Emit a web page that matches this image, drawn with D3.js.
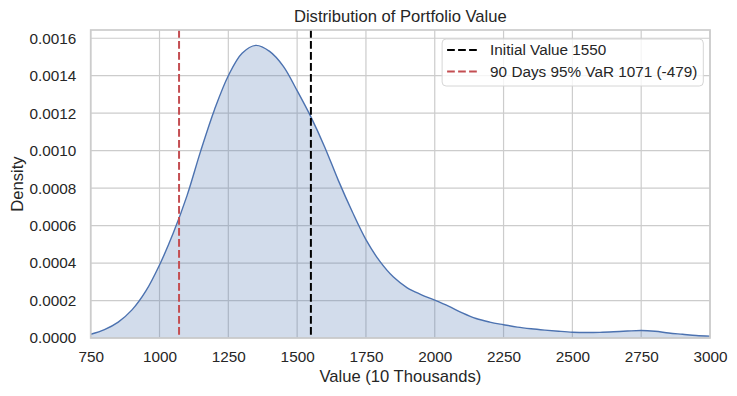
<!DOCTYPE html>
<html>
  <head>
    <meta charset="utf-8" />
    <title>Distribution of Portfolio Value</title>
    <script src="https://d3js.org/d3.v7.min.js"></script>
    <style>
      body { margin: 0; background: #fff; }
      svg text { font-family: "Liberation Sans", Arial, sans-serif; fill: #262626; }
    </style>
  </head>
  <body>
    <svg id="chart" width="737" height="396"></svg>
    <script>
      // values (x in 10 thousands, y = density)
      const xValues = [750, 800, 850, 900, 950, 1000, 1050, 1100, 1150, 1200,
        1250, 1300, 1350, 1400, 1450, 1500, 1550, 1600, 1650, 1700,
        1750, 1800, 1850, 1900, 1950, 2000, 2050, 2100, 2150, 2200,
        2250, 2300, 2350, 2400, 2450, 2500, 2550, 2600, 2650, 2700,
        2750, 2800, 2850, 2900, 2950, 3000];
      const densities = [0.00002, 0.000045, 0.000085, 0.00015, 0.00025, 0.00039, 0.00056, 0.00076, 0.001, 0.00122,
        0.0014, 0.00152, 0.001562, 0.00153, 0.00145, 0.00132, 0.00118, 0.00102, 0.00084, 0.000675,
        0.000525, 0.00041, 0.000325, 0.000268, 0.000232, 0.000202, 0.00017, 0.000134, 0.000104, 0.000085,
        0.000071, 0.000058, 0.000049, 0.000042, 0.000036, 0.000031, 0.000029, 0.00003, 0.000033, 0.000037,
        0.00004, 0.000036, 0.000027, 0.00002, 0.000013, 0.00001];

      const initialValue = 1550;
      const varValue = 1071;
      const legendLabels = ["Initial Value 1550", "90 Days 95% VaR 1071 (-479)"];
      const xTicks = [750, 1000, 1250, 1500, 1750, 2000, 2250, 2500, 2750, 3000];
      const yTicks = [0, 0.0002, 0.0004, 0.0006, 0.0008, 0.001, 0.0012, 0.0014, 0.0016];

      const svg = d3.select("#chart");
      const width = +svg.attr("width");
      const height = +svg.attr("height");
      const margin = { top: 30, right: 27, bottom: 58, left: 90.7 };
      const plotW = width - margin.left - margin.right;
      const plotH = height - margin.top - margin.bottom;

      const data = xValues.map((x, i) => ({ x: x, y: densities[i] }));

      const x = d3.scaleLinear().domain([750, 3000]).range([0, plotW]);
      const y = d3.scaleLinear().domain([0, 0.001644]).range([plotH, 0]);

      const g = svg.append("g")
        .attr("transform", "translate(" + margin.left + "," + margin.top + ")");

      // grid (drawn below everything)
      g.append("g")
        .selectAll("line")
        .data(xTicks)
        .join("line")
        .attr("x1", d => x(d)).attr("x2", d => x(d))
        .attr("y1", 0).attr("y2", plotH)
        .attr("stroke", "#cccccc").attr("stroke-width", 1.2);
      g.append("g")
        .selectAll("line")
        .data(yTicks)
        .join("line")
        .attr("x1", 0).attr("x2", plotW)
        .attr("y1", d => y(d)).attr("y2", d => y(d))
        .attr("stroke", "#cccccc").attr("stroke-width", 1.2);

      // kde fill + line
      const area = d3.area()
        .x(d => x(d.x)).y0(y(0)).y1(d => y(d.y))
        .curve(d3.curveCatmullRom);
      const line = d3.line()
        .x(d => x(d.x)).y(d => y(d.y))
        .curve(d3.curveCatmullRom);

      g.append("path").datum(data)
        .attr("d", area)
        .attr("fill", "#4c72b0").attr("fill-opacity", 0.25);
      g.append("path").datum(data)
        .attr("d", line)
        .attr("fill", "none").attr("stroke", "#4c72b0").attr("stroke-width", 1.4);

      // vertical reference lines
      const vlines = [
        { v: initialValue, color: "#000000" },
        { v: varValue, color: "#c44e52" }
      ];
      g.append("g")
        .selectAll("line")
        .data(vlines)
        .join("line")
        .attr("x1", d => x(d.v)).attr("x2", d => x(d.v))
        .attr("y1", 0).attr("y2", plotH)
        .attr("stroke", d => d.color)
        .attr("stroke-width", 2)
        .attr("stroke-dasharray", "7.7,3.3");

      // spines
      g.append("rect")
        .attr("width", plotW).attr("height", plotH)
        .attr("fill", "none").attr("stroke", "#cccccc").attr("stroke-width", 1.7);

      // axes (labels only, no tick marks)
      const xAxis = g.append("g")
        .attr("transform", "translate(0," + plotH + ")")
        .call(d3.axisBottom(x).tickValues(xTicks).tickFormat(d3.format("d")).tickSize(0).tickPadding(13));
      const yAxis = g.append("g")
        .call(d3.axisLeft(y).tickValues(yTicks).tickFormat(d3.format(".4f")).tickSize(0).tickPadding(14.5));
      [xAxis, yAxis].forEach(a => {
        a.select(".domain").remove();
        a.selectAll("text")
          .attr("fill", "#262626")
          .style("font-size", "15.3px")
          .style("font-family", "'Liberation Sans', Arial, sans-serif");
      });

      // title and axis labels
      svg.append("text")
        .attr("x", margin.left + plotW / 2).attr("y", 22)
        .attr("text-anchor", "middle")
        .style("font-size", "16.6px")
        .text("Distribution of Portfolio Value");
      svg.append("text")
        .attr("x", margin.left + plotW / 2).attr("y", 382)
        .attr("text-anchor", "middle")
        .style("font-size", "16.6px")
        .text("Value (10 Thousands)");
      svg.append("text")
        .attr("transform", "translate(23," + (margin.top + plotH / 2) + ") rotate(-90)")
        .attr("text-anchor", "middle")
        .style("font-size", "16.6px")
        .text("Density");

      // legend
      const legend = g.append("g");
      const legBox = legend.append("rect")
        .attr("fill", "#ffffff").attr("fill-opacity", 0.8)
        .attr("stroke", "#d6d6d6").attr("stroke-width", 1)
        .attr("rx", 4).attr("ry", 4);
      const rows = legend.selectAll("g.row")
        .data(vlines.map((d, i) => ({ color: d.color, label: legendLabels[i] })))
        .join("g")
        .attr("class", "row")
        .attr("transform", (d, i) => "translate(0," + (11 + i * 21.5) + ")");
      rows.append("line")
        .attr("x1", 0).attr("x2", 30)
        .attr("stroke", d => d.color).attr("stroke-width", 2)
        .attr("stroke-dasharray", "7.7,3.3");
      rows.append("text")
        .attr("x", 43).attr("dy", "0.35em")
        .style("font-size", "15.3px")
        .text(d => d.label);

      let textW = 0;
      rows.selectAll("text").each(function () {
        textW = Math.max(textW, this.getComputedTextLength());
      });
      const padL = 5;
      const boxW = padL + 43 + textW + 6;
      const boxH = 47;
      const boxRight = plotW - 6.7;
      const boxTop = 9;
      legBox.attr("x", -padL).attr("y", 0).attr("width", boxW).attr("height", boxH);
      legend.attr("transform", "translate(" + (boxRight - boxW + padL) + "," + boxTop + ")");
    </script>
  </body>
</html>
